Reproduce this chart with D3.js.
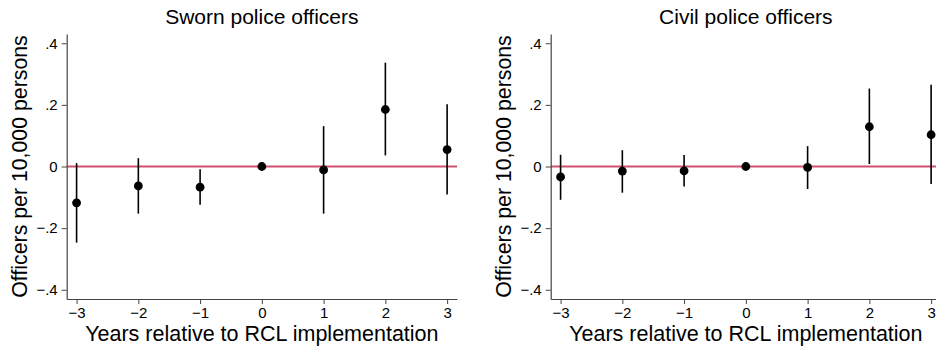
<!DOCTYPE html>
<html>
  <head>
    <meta charset="utf-8">
    <title>Event study</title>
    <script src="https://cdnjs.cloudflare.com/ajax/libs/d3/7.8.5/d3.min.js"></script>
    <style>
      body { margin: 0; background: #fff; }
      text { font-family: "Liberation Sans", Arial, Helvetica, sans-serif; fill: #000; }
    </style>
  </head>
  <body>
    <div id="vis"></div>
    <script>
      // data
      var years = [-3, -2, -1, 0, 1, 2, 3];
      var panelTitles = ['Sworn police officers', 'Civil police officers'];

      var swornEst = [-0.118, -0.063, -0.067, 0, -0.011, 0.185, 0.055];
      var swornLo  = [-0.247, -0.153, -0.124, null, -0.153, 0.036, -0.091];
      var swornHi  = [ 0.011,  0.027, -0.009, null,  0.131, 0.337,  0.202];

      var civilEst = [-0.034, -0.015, -0.014, 0, -0.003, 0.129, 0.103];
      var civilLo  = [-0.108, -0.085, -0.065, null, -0.073, 0.008, -0.057];
      var civilHi  = [ 0.038,  0.053,  0.037, null,  0.066, 0.253,  0.265];

      var yTicks = [-0.4, -0.2, 0, 0.2, 0.4];
      var yTickLabels = ['\u2212.4', '\u2212.2', '0', '.2', '.4'];
      var xTickLabels = ['\u22123', '\u22122', '\u22121', '0', '1', '2', '3'];

      var W = 936, H = 350;
      var svg = d3.select('#vis').append('svg')
        .attr('width', W).attr('height', H);

      function panel(offset, title, est, lo, hi) {
        var x = d3.scaleLinear().domain([-3.16, 3.16]).range([offset + 66.7, offset + 457]);
        var y = d3.scaleLinear().domain([-0.43, 0.43]).range([299, 34]);
        var g = svg.append('g');

        // reference line at zero
        g.append('line')
          .attr('x1', x.range()[0]).attr('x2', x.range()[1])
          .attr('y1', y(0)).attr('y2', y(0))
          .attr('stroke', '#d0506f').attr('stroke-width', 2);

        // axes
        var yAxis = d3.axisLeft(y).tickValues(yTicks)
          .tickFormat(function(d, i){ return yTickLabels[i]; })
          .tickSize(5).tickPadding(4).tickSizeOuter(0);
        var ga = g.append('g').attr('transform', 'translate(' + x.range()[0] + ',0)').call(yAxis);

        var xAxis = d3.axisBottom(x).tickValues(years)
          .tickFormat(function(d, i){ return xTickLabels[i]; })
          .tickSize(5).tickPadding(3).tickSizeOuter(0);
        var gb = g.append('g').attr('transform', 'translate(0,299)').call(xAxis);

        [ga, gb].forEach(function(a){
          a.select('.domain').attr('stroke', '#444').attr('stroke-width', 1.2);
          a.selectAll('.tick line').attr('stroke', '#444').attr('stroke-width', 1);
          a.selectAll('.tick text').style('font-size', '15px')
            .style('font-family', '"Liberation Sans", Arial, sans-serif').attr('fill', '#000');
        });

        // confidence intervals
        g.selectAll('line.ci').data(years.filter(function(d, i){ return lo[i] !== null; }))
          .enter().append('line')
          .attr('class', 'ci')
          .attr('x1', function(d){ return x(d); })
          .attr('x2', function(d){ return x(d); })
          .attr('y1', function(d){ return y(lo[years.indexOf(d)]); })
          .attr('y2', function(d){ return y(hi[years.indexOf(d)]); })
          .attr('stroke', '#000').attr('stroke-width', 1.6);

        // point estimates
        g.selectAll('circle').data(years).enter().append('circle')
          .attr('cx', function(d){ return x(d); })
          .attr('cy', function(d, i){ return y(est[i]); })
          .attr('r', 4.4)
          .attr('fill', '#000');

        // titles
        g.append('text')
          .attr('x', x(0)).attr('y', 23.5)
          .attr('text-anchor', 'middle')
          .style('font-size', '21px')
          .text(title);

        g.append('text')
          .attr('x', x(0)).attr('y', 340.5)
          .attr('text-anchor', 'middle')
          .style('font-size', '21.5px')
          .text('Years relative to RCL implementation');

        g.append('text')
          .attr('transform', 'translate(' + (offset + 26.5) + ',' + y(0) + ') rotate(-90)')
          .attr('text-anchor', 'middle')
          .style('font-size', '21.3px')
          .text('Officers per 10,000 persons');
      }

      panel(0, panelTitles[0], swornEst, swornLo, swornHi);
      panel(484, panelTitles[1], civilEst, civilLo, civilHi);
    </script>
  </body>
</html>
